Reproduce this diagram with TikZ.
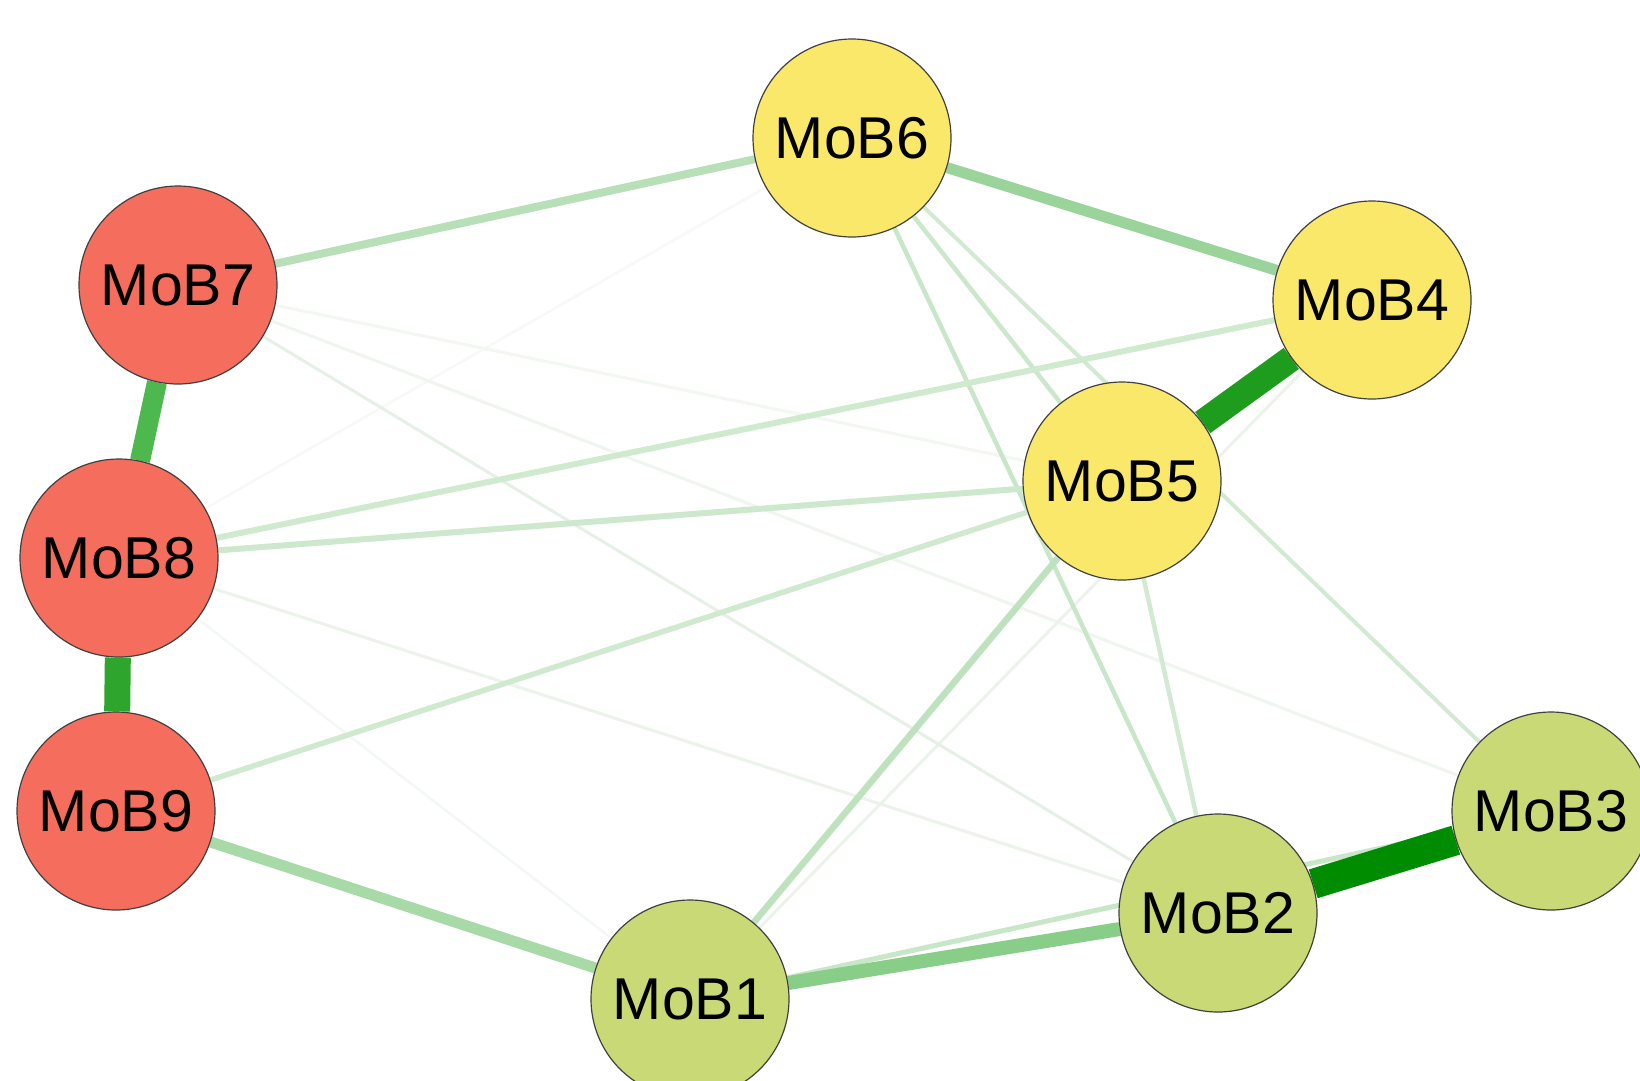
\documentclass[tikz,border=0pt]{standalone}
\usepackage{fontspec}
\setmainfont{Liberation Sans}
\pgfdeclarelayer{bg}
\pgfsetlayers{bg,main}
\definecolor{nred}{HTML}{F46D5D}
\definecolor{nyel}{HTML}{FAE86B}
\definecolor{nolv}{HTML}{C8D975}
\definecolor{ca}{RGB}{246,249,246}
\definecolor{cb}{RGB}{244,248,244}
\definecolor{cc}{RGB}{242,247,242}
\definecolor{cd}{RGB}{239,245,239}
\definecolor{ce}{RGB}{235,243,235}
\definecolor{cf}{RGB}{230,240,230}
\definecolor{cg}{RGB}{200,230,200}
\definecolor{ch}{RGB}{203,232,203}
\definecolor{ci}{RGB}{210,234,210}
\definecolor{cj}{RGB}{200,230,200}
\definecolor{ck}{RGB}{208,234,208}
\definecolor{cl}{RGB}{205,232,205}
\definecolor{cm}{RGB}{189,226,189}
\definecolor{cn}{RGB}{184,224,184}
\definecolor{co}{RGB}{168,218,168}
\definecolor{cp}{RGB}{155,212,155}
\definecolor{cq}{RGB}{136,206,136}
\definecolor{cr}{RGB}{77,184,77}
\definecolor{cs}{RGB}{46,166,46}
\definecolor{ct}{RGB}{30,156,30}
\definecolor{cu}{RGB}{0,140,0}
\tikzset{
  mob/.style={circle, draw=black!75, line width=1.2pt, minimum size=198pt, inner sep=0pt,
    font=\fontsize{59}{61}\selectfont},
  ed/.style 2 args={draw=#1, line width=#2}
}
\begin{document}
\begin{tikzpicture}[x=1pt,y=-1pt]
\useasboundingbox (0,0) rectangle (1640,1080);
\clip (0,0) rectangle (1640,1080);

\node[mob, fill=nyel] (mob6) at (852,138) {MoB6};
\node[mob, fill=nred] (mob7) at (178,285) {MoB7};
\node[mob, fill=nyel] (mob4) at (1372,300) {MoB4};
\node[mob, fill=nyel] (mob5) at (1122,481) {MoB5};
\node[mob, fill=nred] (mob8) at (119,558) {MoB8};
\node[mob, fill=nred] (mob9) at (116,811) {MoB9};
\node[mob, fill=nolv] (mob3) at (1551,811) {MoB3};
\node[mob, fill=nolv] (mob2) at (1218,913) {MoB2};
\node[mob, fill=nolv] (mob1) at (690,999) {MoB1};

\begin{pgfonlayer}{bg}
\fill[white] (0,0) rectangle (1640,1080);
% very faint
\draw[ed={ca}{2.5pt}] (mob8) -- (mob6);
\draw[ed={cb}{2.5pt}] (mob8) -- (mob1);
\draw[ed={cc}{3pt}] (mob7) -- (mob5);
\draw[ed={cd}{3pt}] (mob7) -- (mob3);
\draw[ed={ce}{3pt}] (mob4) -- (mob1);
\draw[ed={ce}{3pt}] (mob8) -- (mob2);
\draw[ed={cf}{3pt}] (mob7) -- (mob2);
% light
\draw[ed={cg}{4.5pt}] (mob6) -- (mob2);
\draw[ed={ch}{4.5pt}] (mob6) -- (mob5);
\draw[ed={ci}{4pt}] (mob6) -- (mob3);
\draw[ed={ci}{4.5pt}] (mob5) -- (mob2);
\draw[ed={cj}{5pt}] (mob1) -- (mob3);
\draw[ed={ck}{6pt}] (mob8) -- (mob4);
\draw[ed={cl}{6pt}] (mob8) -- (mob5);
\draw[ed={ck}{5.5pt}] (mob9) -- (mob5);
\draw[ed={cm}{6.5pt}] (mob5) -- (mob1);
\draw[ed={cn}{8pt}] (mob7) -- (mob6);
% medium
\draw[ed={co}{11pt}] (mob9) -- (mob1);
\draw[ed={cp}{11pt}] (mob6) -- (mob4);
\draw[ed={cq}{14pt}] (mob1) -- (mob2);
% strong
\draw[ed={cr}{20pt}] (mob7) -- (mob8);
\draw[ed={cs}{26pt}] (mob8) -- (mob9);
\draw[ed={ct}{26pt}] (mob4) -- (mob5);
\draw[ed={cu}{30pt}] (mob2) -- (mob3);
\end{pgfonlayer}
\end{tikzpicture}
\end{document}
